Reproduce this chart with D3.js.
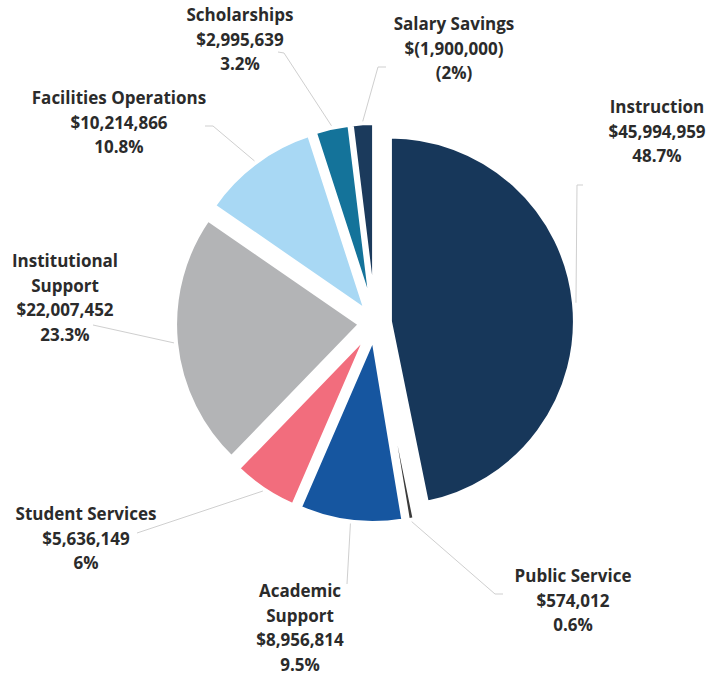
<!DOCTYPE html>
<html>
<head>
<meta charset="utf-8">
<script src="https://cdn.jsdelivr.net/npm/d3@7"></script>
<style>
  html, body { margin: 0; padding: 0; background: #fff; }
  svg { display: block; }
  text { font-family: "Open Sans", Lato, sans-serif; font-weight: 700; fill: #2b2b2b; }
</style>
</head>
<body>
<svg id="chart" width="725" height="676"></svg>
<script>
// Budget by function (dollars); salary savings is a reduction
const categories = ["Instruction", "Public Service", "Academic Support", "Student Services",
  "Institutional Support", "Facilities Operations", "Scholarships", "Salary Savings"];
const amounts = [45994959, 574012, 8956814, 5636149, 22007452, 10214866, 2995639, -1900000];
const shareLabels = ["48.7%", "0.6%", "9.5%", "6%", "23.3%", "10.8%", "3.2%", "(2%)"];

// Styling and layout
const colors = ["#17375a", "#3b3b3b", "#1656a0", "#f26d7d", "#b3b4b6", "#a8d8f4", "#14739a", "#1b3a5c"];
const center = { x: 375, y: 323 };
const radius = 185;
const explode = 15;
const lineHeight = 24.7;

// label blocks: centre x, first baseline, wrapped title lines, leader start / elbow
const labelLayout = [
  { x: 657, y: 113, title: ["Instruction"], from: [583, 185], elbow: [577, 185] },
  { x: 573, y: 582, title: ["Public Service"], from: [503, 594], elbow: [495, 594] },
  { x: 300, y: 597, title: ["Academic", "Support"], from: [347, 584], elbow: null },
  { x: 86, y: 520, title: ["Student Services"], from: [137, 533], elbow: null },
  { x: 65, y: 267, title: ["Institutional", "Support"], from: [93, 325], elbow: null },
  { x: 119, y: 104, title: ["Facilities Operations"], from: [205, 126], elbow: [213, 126] },
  { x: 240, y: 21, title: ["Scholarships"], from: [278, 52], elbow: [284, 53] },
  { x: 454, y: 30, title: ["Salary Savings"], from: [386, 67], elbow: [378, 67] }
];

const fmt = d3.format(",");
const money = v => v < 0 ? "$(" + fmt(-v) + ")" : "$" + fmt(v);

const rows = categories.map((c, i) => ({ name: c, value: amounts[i], share: shareLabels[i], i }));

const pie = d3.pie().sort(null).value(d => Math.abs(d.value)).startAngle(0).endAngle(2 * Math.PI);
const arcs = pie(rows);
const arc = d3.arc().innerRadius(0).outerRadius(radius);

const svg = d3.select("#chart");
const g = svg.append("g").attr("transform", `translate(${center.x},${center.y})`);

// offset of each exploded slice along its mid angle
const shift = (a, r) => {
  const m = (a.startAngle + a.endAngle) / 2;
  return [r * Math.sin(m), -r * Math.cos(m)];
};

g.selectAll("path.slice")
  .data(arcs)
  .join("path")
  .attr("class", "slice")
  .attr("transform", a => { const [dx, dy] = shift(a, explode); return `translate(${dx},${dy})`; })
  .attr("d", arc)
  .attr("fill", a => colors[a.data.i])
  .attr("stroke", "#fff")
  .attr("stroke-width", 4);

// leader lines from label to slice edge
const leaders = svg.append("g")
  .attr("fill", "none")
  .attr("stroke", "#cfcfcf")
  .attr("stroke-width", 1);

arcs.forEach(a => {
  const L = labelLayout[a.data.i];
  const [ox, oy] = shift(a, explode);
  const [ex, ey] = shift(a, radius + 2);
  const end = [center.x + ox + ex, center.y + oy + ey];
  const pts = [L.from];
  if (L.elbow) pts.push(L.elbow);
  pts.push(end);
  leaders.append("path").attr("d", d3.line()(pts));
});

// labels: title lines, amount, share
const labels = svg.append("g").attr("font-size", 17).attr("text-anchor", "middle");
arcs.forEach(a => {
  const d = a.data;
  const L = labelLayout[d.i];
  const lines = [...L.title, money(d.value), d.share];
  const t = labels.append("text").attr("x", L.x).attr("y", L.y);
  lines.forEach((s, k) => {
    t.append("tspan").attr("x", L.x).attr("y", L.y + k * lineHeight).text(s);
  });
});
</script>
</body>
</html>
